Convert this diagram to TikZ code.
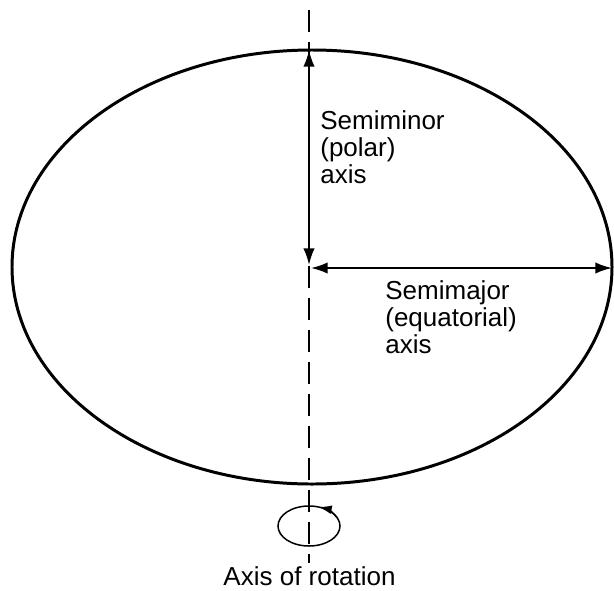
\documentclass[tikz,border=0pt]{standalone}
\usepackage{fontspec}
\setmainfont{Liberation Sans}
\usetikzlibrary{arrows.meta}
\usetikzlibrary{math}

\begin{document}
\begin{tikzpicture}[font=\fontsize{14.8pt}{15.4pt}\selectfont,
 dimarrow/.style={{Latex[length=9.5pt,width=6.5pt]}-{Latex[length=9.5pt,width=6.5pt]}, line width=1.1pt},
 axislabel/.style={anchor=north west, align=left, inner sep=0pt}]
\tikzmath{
\a=6.0;
\b=4.34;
\ax=-0.06;
}

\useasboundingbox (-6.24,-6.46) rectangle (6.04,5.34);

 %axis of rotation
 \coordinate (AxTop) at (\ax,5.14);
 \coordinate (AxBot) at (\ax,-5.92);
 \draw[line width=1.1pt, dash pattern=on 12.5pt off 5.7pt] (AxTop) -- (AxBot);

 %spheroid
 \draw[line width=1.7pt] (0,0) ellipse [x radius=\a, y radius=\b];

 \coordinate (PoleN) at (\ax,\b);
 \coordinate (CenV) at (\ax,0.04);
 \coordinate (CenH) at (\ax+0.04,-0.02);
 \coordinate (EqE) at (\a,-0.02);

 \draw[dimarrow] (PoleN) -- (CenV);
 \draw[dimarrow] (CenH) -- (EqE);

 \node[axislabel] (MinorLbl) at (0.16,3.14) {Semiminor\\(polar)\\axis};
 \node[axislabel] (MajorLbl) at (1.46,-0.26) {Semimajor\\(equatorial)\\axis};

 %rotation sense
 \coordinate (Rot) at (\ax,-5.18);
 \draw[line width=0.85pt] (Rot) ellipse [x radius=0.62, y radius=0.40];
 \path (Rot) ++(25:0.62 and 0.40) coordinate (RotA);
 \draw[line width=0.85pt, -{Latex[length=7.5pt,width=5pt]}] (RotA) arc [start angle=25, end angle=72, x radius=0.62, y radius=0.40];

 \node[anchor=base, inner sep=0pt] (RotLbl) at (-0.05,-6.37) {Axis of rotation};

\end{tikzpicture}
\end{document}
